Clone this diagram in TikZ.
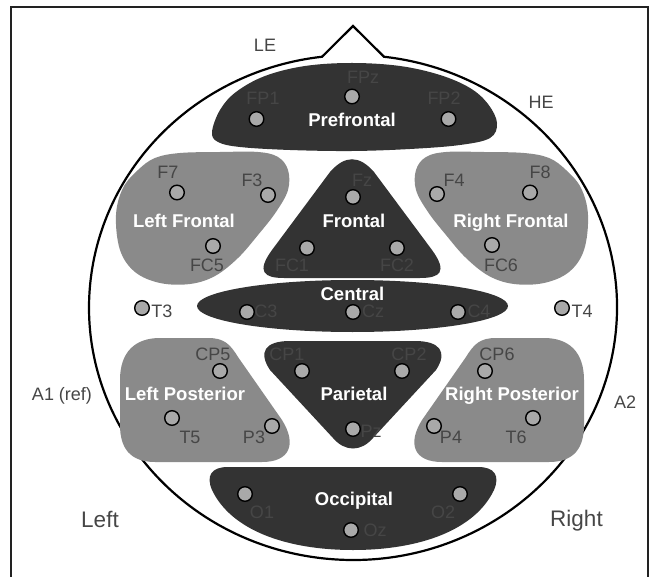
\documentclass[tikz,border=0pt]{standalone}
\usepackage{fontspec}
\setmainfont{Liberation Sans}
\definecolor{darkreg}{HTML}{333333}
\definecolor{lightreg}{HTML}{8A8A8A}
\definecolor{elecfill}{HTML}{A9A9A9}
\definecolor{labcol}{HTML}{464646}
\definecolor{framecol}{HTML}{222222}
\begin{document}
\begin{tikzpicture}[x=1pt,y=-1pt,
  darkzone/.style={fill=darkreg},
  lightzone/.style={fill=lightreg},
  elec/.style={circle,draw=black,line width=1.4pt,fill=elecfill,minimum size=14.6pt,inner sep=0pt},
  lab/.style={text=labcol,font=\fontsize{18}{18}\selectfont,inner sep=0pt,anchor=base},
  biglab/.style={text=labcol,font=\fontsize{22.5}{22.5}\selectfont,inner sep=0pt,anchor=base},
  zone/.style={text=white,font=\fontsize{18.5}{18.5}\selectfont\bfseries,inner sep=0pt,anchor=base},
  headline/.style={draw=black,line width=2.2pt,line join=miter}]
\useasboundingbox (0,0) rectangle (650,577);
% frame
\draw[framecol,line width=2pt] (11,577) -- (11,7.5) -- (648,7.5) -- (648,577);
% head with nose
\draw[headline] (384,56.75) arc[start angle=276.74, end angle=623.26, x radius=264, y radius=252.5] -- (353,26) -- cycle;
% Prefrontal
\fill[darkzone] plot[smooth cycle,tension=0.6] coordinates {(212,132) (220,110) (236,92) (265,76) (305,66) (352,63) (400,66) (440,75) (470,88) (488,104) (497,123) (490,138) (460,145) (410,149) (352,151) (290,150) (240,147) (218,142)};
% Left Frontal
\fill[lightzone] plot[smooth cycle,tension=0.6] coordinates {(116,215) (123,188) (138,170) (155,158) (180,153) (220,152) (258,152) (278,157) (288,170) (288,190) (276,212) (258,235) (238,258) (215,276) (190,284) (160,283) (135,272) (120,250)};
% Right Frontal
\fill[lightzone] plot[smooth cycle,tension=0.6] coordinates {(588,215) (581,188) (566,170) (549,158) (524,153) (484,152) (446,152) (426,157) (416,170) (416,190) (428,212) (446,235) (466,258) (489,276) (514,284) (544,283) (569,272) (584,250)};
% Frontal
\fill[darkzone] (330,172) .. controls (345,155) and (359,155) .. (374,172) -- (432,250) .. controls (448,272) and (440,278) .. (420,278) -- (284,278) .. controls (264,278) and (256,272) .. (272,250) -- cycle;
% Central
\fill[darkzone] (352.5,306) ellipse [x radius=155.5, y radius=26];
% Left Posterior
\fill[lightzone] (160,338) -- (208,338) .. controls (224,338) and (230,344) .. (238,357) -- (282,420) .. controls (297,444) and (290,462) .. (262,462) -- (155,462) .. controls (130,462) and (120,448) .. (120,425) -- (120,380) .. controls (120,352) and (135,338) .. (160,338) -- cycle;
% Right Posterior
\fill[lightzone] (544,338) -- (496,338) .. controls (480,338) and (474,344) .. (466,357) -- (422,420) .. controls (407,444) and (414,462) .. (442,462) -- (549,462) .. controls (574,462) and (584,448) .. (584,425) -- (584,380) .. controls (584,352) and (569,338) .. (544,338) -- cycle;
% Parietal
\fill[darkzone] (290,341) -- (415,341) .. controls (440,341) and (448,352) .. (436,370) -- (373,438) .. controls (361,452) and (345,452) .. (333,438) -- (270,370) .. controls (258,352) and (265,341) .. (290,341) -- cycle;
% Occipital
\fill[darkzone] (228,467) -- (478,467) .. controls (495,467) and (500,476) .. (494,490) .. controls (475,530) and (420,550) .. (353,550) .. controls (286,550) and (231,530) .. (212,490) .. controls (206,476) and (211,467) .. (228,467) -- cycle;
% zone names
\node[zone] (nPre) at (352,127) {Prefrontal};
\node[zone] (nLF) at (184,228) {Left Frontal};
\node[zone] (nF) at (354,228) {Frontal};
\node[zone] (nRF) at (511,228) {Right Frontal};
\node[zone] (nC) at (352.5,300.5) {Central};
\node[zone] (nLP) at (185,400) {Left Posterior};
\node[zone] (nP) at (354,400) {Parietal};
\node[zone] (nRP) at (512,400) {Right Posterior};
\node[zone] (nO) at (354,505) {Occipital};
% outer labels
\node[lab] (tLE) at (265,52) {LE};
\node[lab] (tHE) at (541,109) {HE};
\node[lab] (tA1) at (62,400) {A1 (ref)};
\node[lab] (tA2) at (625,408) {A2};
\node[biglab] (tLeft) at (100,527) {Left};
\node[biglab] (tRight) at (576.5,526) {Right};
% electrodes
\node[elec] (FPz) at (352,96.5) {};
\node[elec] (FP1) at (256.5,119) {};
\node[elec] (FP2) at (448.5,119) {};
\node[elec] (F7) at (177,192.5) {};
\node[elec] (F3) at (268,195) {};
\node[elec] (Fz) at (353,197) {};
\node[elec] (F4) at (437,194) {};
\node[elec] (F8) at (530,192.5) {};
\node[elec] (FC5) at (213,246) {};
\node[elec] (FC1) at (307,248) {};
\node[elec] (FC2) at (397,248) {};
\node[elec] (FC6) at (492,245) {};
\node[elec] (T3) at (142,308) {};
\node[elec] (C3) at (247,312) {};
\node[elec] (Cz) at (353,312) {};
\node[elec] (C4) at (458,312) {};
\node[elec] (T4) at (562,308) {};
\node[elec] (CP5) at (220,371) {};
\node[elec] (CP1) at (302,371) {};
\node[elec] (CP2) at (402,371) {};
\node[elec] (CP6) at (485,371) {};
\node[elec] (T5) at (172,418) {};
\node[elec] (P3) at (272,426) {};
\node[elec] (Pz) at (353,429) {};
\node[elec] (P4) at (434,426) {};
\node[elec] (T6) at (533,418) {};
\node[elec] (O1) at (245,494) {};
\node[elec] (O2) at (460,494) {};
\node[elec] (Oz) at (351,530) {};
% electrode labels
\node[lab] (lFPz) at (363,84) {FPz};
\node[lab] (lFP1) at (263,105) {FP1};
\node[lab] (lFP2) at (444,105) {FP2};
\node[lab] (lF7) at (168,179) {F7};
\node[lab] (lF3) at (252,187) {F3};
\node[lab] (lFz) at (362,187) {Fz};
\node[lab] (lF4) at (454,187) {F4};
\node[lab] (lF8) at (540,179) {F8};
\node[lab] (lFC5) at (207,271) {FC5};
\node[lab] (lFC1) at (292,271) {FC1};
\node[lab] (lFC2) at (397,271) {FC2};
\node[lab] (lFC6) at (501,271) {FC6};
\node[lab] (lT3) at (162,317) {T3};
\node[lab] (lC3) at (266,317) {C3};
\node[lab] (lCz) at (373,317.5) {Cz};
\node[lab] (lC4) at (479,317) {C4};
\node[lab] (lT4) at (582,317) {T4};
\node[lab] (lCP5) at (213,360) {CP5};
\node[lab] (lCP1) at (287,360) {CP1};
\node[lab] (lCP2) at (409,360) {CP2};
\node[lab] (lCP6) at (497,360) {CP6};
\node[lab] (lT5) at (190,443) {T5};
\node[lab] (lP3) at (254,443) {P3};
\node[lab] (lPz) at (371,437) {Pz};
\node[lab] (lP4) at (451,443) {P4};
\node[lab] (lT6) at (516,443) {T6};
\node[lab] (lO1) at (262,518) {O1};
\node[lab] (lO2) at (443,518) {O2};
\node[lab] (lOz) at (375,536) {Oz};
\end{tikzpicture}
\end{document}
